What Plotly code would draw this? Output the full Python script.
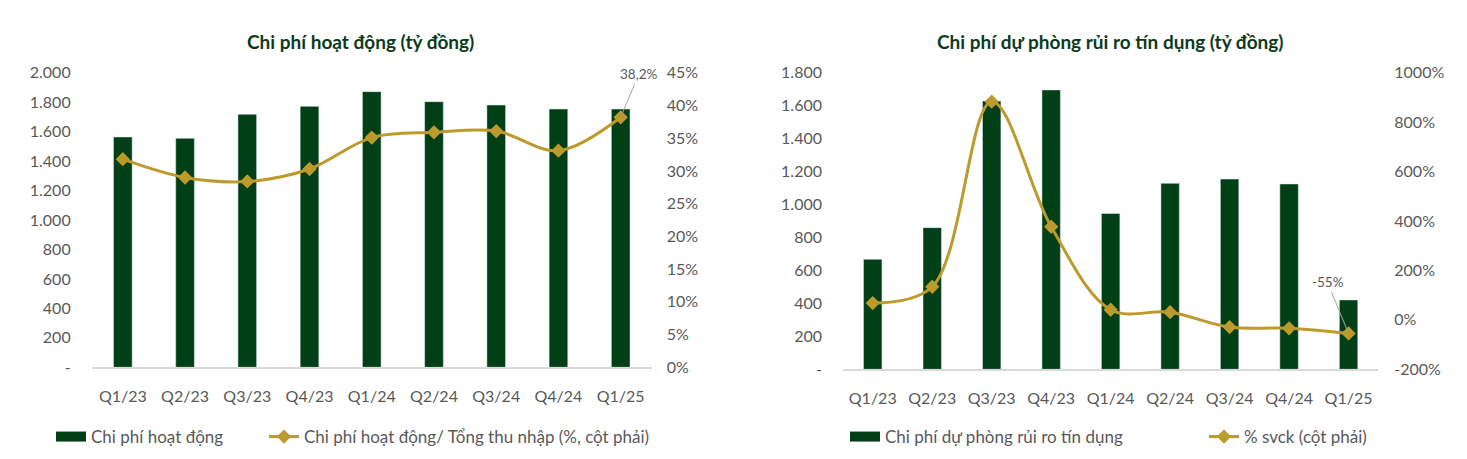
import plotly.graph_objects as go

# ---------------- data ----------------
quarters = ["Q1/23", "Q2/23", "Q3/23", "Q4/23", "Q1/24", "Q2/24", "Q3/24", "Q4/24", "Q1/25"]

opex = [1564, 1555, 1718, 1772, 1872, 1804, 1781, 1754, 1754]
opex_ratio = [31.8, 29.0, 28.4, 30.3, 35.1, 35.9, 36.1, 33.1, 38.2]

provision = [668, 860, 1629, 1696, 946, 1129, 1155, 1125, 421]
provision_yoy = [68, 134, 883, 377, 41, 31, -29, -34, -55]

left_ticks1 = [0, 200, 400, 600, 800, 1000, 1200, 1400, 1600, 1800, 2000]
left_text1 = ["-", "200", "400", "600", "800", "1.000", "1.200", "1.400", "1.600", "1.800", "2.000"]
right_ticks1 = [0, 5, 10, 15, 20, 25, 30, 35, 40, 45]

left_ticks2 = [0, 200, 400, 600, 800, 1000, 1200, 1400, 1600, 1800]
left_text2 = ["-", "200", "400", "600", "800", "1.000", "1.200", "1.400", "1.600", "1.800"]
right_ticks2 = [-200, 0, 200, 400, 600, 800, 1000]

title1 = "Chi phí hoạt động (tỷ đồng)"
title2 = "Chi phí dự phòng rủi ro tín dụng (tỷ đồng)"
name_bar1 = "Chi phí hoạt động"
name_line1 = "Chi phí hoạt động/ Tổng thu nhập (%, cột phải)"
name_bar2 = "Chi phí dự phòng rủi ro tín dụng"
name_line2 = "% svck (cột phải)"

# ---------------- style ----------------
GREEN = "#013f16"
GOLD = "#bd9a2c"
TXT = "#595959"
TITLE = "#0c3b1c"
FONT = "Lato"

# the page body has an 8px margin; the figure fills the rest of the window
OFF = 8
W, H = 1467 - 2 * OFF, 459 - 2 * OFF

def px(x):
    return (x - OFF) / W

def py(y):
    return 1 - (y - OFF) / H

fig = go.Figure()

# chart 1
fig.add_trace(go.Bar(x=quarters, y=opex, marker_color=GREEN, width=0.3,
                     xaxis="x", yaxis="y", showlegend=False, name=name_bar1))
fig.add_trace(go.Scatter(x=[None], y=[None], mode="lines", line=dict(color=GREEN, width=11),
                         name=name_bar1, legend="legend", xaxis="x", yaxis="y"))
fig.add_trace(go.Scatter(x=quarters, y=opex_ratio, mode="lines+markers",
                         line=dict(color=GOLD, width=3, shape="spline", smoothing=1),
                         marker=dict(symbol="diamond", size=11, color=GOLD),
                         name=name_line1, legend="legend2", xaxis="x", yaxis="y2"))

# chart 2
fig.add_trace(go.Bar(x=quarters, y=provision, marker_color=GREEN, width=0.31,
                     xaxis="x2", yaxis="y3", showlegend=False, name=name_bar2))
fig.add_trace(go.Scatter(x=[None], y=[None], mode="lines", line=dict(color=GREEN, width=11),
                         name=name_bar2, legend="legend3", xaxis="x2", yaxis="y3"))
fig.add_trace(go.Scatter(x=quarters, y=provision_yoy, mode="lines+markers",
                         line=dict(color=GOLD, width=3, shape="spline", smoothing=1),
                         marker=dict(symbol="diamond", size=11, color=GOLD),
                         name=name_line2, legend="legend4", xaxis="x2", yaxis="y4"))

tickfont = dict(family=FONT, size=16, color=TXT)

def xax(domain, anchor):
    return dict(domain=domain, anchor=anchor, type="category",
                categoryorder="array", categoryarray=quarters,
                range=[-0.5, len(quarters) - 0.5], showline=True,
                linecolor="#d9d9d9", linewidth=1.5, ticks="", showgrid=False,
                tickfont=tickfont, ticklabelstandoff=14, fixedrange=True)

def yax(domain, rng, tv, tt, side="left", overlay=None, anchor=None, standoff=20):
    d = dict(domain=domain, range=rng, tickmode="array", tickvals=tv, ticktext=tt,
             showgrid=False, zeroline=False, showline=False, ticks="", tickfont=tickfont,
             side=side, ticklabelstandoff=standoff, fixedrange=True)
    if overlay:
        d["overlaying"] = overlay
    if anchor:
        d["anchor"] = anchor
    return d

ydom1 = [py(367.3), py(72.8)]
ydom2 = [py(369.3), py(72.8)]

def leg(x):
    return dict(orientation="h", font=dict(family=FONT, size=17, color=TXT),
                bgcolor="rgba(0,0,0,0)", xanchor="left", yanchor="middle",
                y=py(437), x=x, itemwidth=30, borderwidth=0)

fig.update_layout(
    width=W, height=H, margin=dict(l=0, r=0, t=0, b=0, autoexpand=False),
    paper_bgcolor="white", plot_bgcolor="white",
    font=dict(family=FONT, color=TXT),
    xaxis=xax([px(91.7), px(651.8)], "y"),
    yaxis=yax(ydom1, [0, 2000], left_ticks1, left_text1, anchor="x", standoff=20),
    yaxis2=yax(ydom1, [0, 45], right_ticks1, [f"{v}%" for v in right_ticks1],
               side="right", overlay="y", anchor="x", standoff=14),
    xaxis2=xax([px(843), px(1378.3)], "y3"),
    yaxis3=yax(ydom2, [0, 1800], left_ticks2, left_text2, anchor="x2", standoff=20),
    yaxis4=yax(ydom2, [-200, 1000], right_ticks2, [f"{v}%" for v in right_ticks2],
               side="right", overlay="y3", anchor="x2", standoff=15),
    legend=leg(px(51)),
    legend2=leg(px(264)),
    legend3=leg(px(845)),
    legend4=leg(px(1204)),
    showlegend=True,
)

# titles
fig.add_annotation(text="<b>" + title1 + "</b>", xref="paper", yref="paper",
                   x=px(360.5), y=py(42), xanchor="center", yanchor="middle",
                   showarrow=False, font=dict(family=FONT, size=19, color=TITLE))
fig.add_annotation(text="<b>" + title2 + "</b>", xref="paper", yref="paper",
                   x=px(1110.5), y=py(42), xanchor="center", yanchor="middle",
                   showarrow=False, font=dict(family=FONT, size=19, color=TITLE))

# data labels with leader lines
v1 = opex_ratio[-1]
fig.add_annotation(text=f"{v1:.1f}".replace(".", ",") + "%", x=quarters[-1], y=v1,
                   xref="x", yref="y2", showarrow=True, arrowhead=0, arrowwidth=1,
                   arrowcolor="#a6a6a6", ax=18, ay=-43, standoff=4,
                   font=dict(family=FONT, size=13.5, color=TXT))
v2 = provision_yoy[-1]
fig.add_annotation(text=f"{v2:.0f}%", x=quarters[-1], y=v2,
                   xref="x2", yref="y4", showarrow=True, arrowhead=0, arrowwidth=1,
                   arrowcolor="#a6a6a6", ax=-21, ay=-51, standoff=2,
                   font=dict(family=FONT, size=13.5, color=TXT))

fig.write_html("out.html")
